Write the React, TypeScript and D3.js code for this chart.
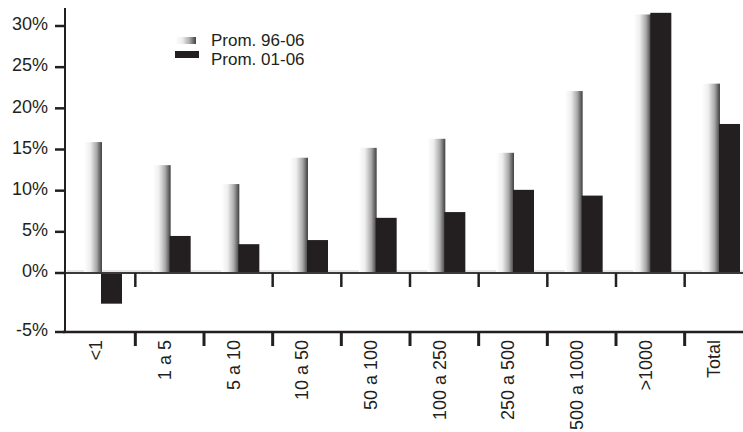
import React from 'react';
import * as d3 from 'd3';

const categories = ['<1', '1 a 5', '5 a 10', '10 a 50', '50 a 100', '100 a 250', '250 a 500', '500 a 1000', '>1000', 'Total'];
const prom9606 = [15.9, 13.1, 10.8, 14.0, 15.2, 16.3, 14.6, 22.1, 31.4, 23.0];
const prom0106 = [-2.6, 4.5, 3.5, 4.0, 6.7, 7.4, 10.1, 9.4, 31.6, 18.1];
const yTicks = [-5, 0, 5, 10, 15, 20, 25, 30];
const seriesNames = ['Prom. 96-06', 'Prom. 01-06'];

const width = 743;
const height = 432;
const ink = '#231f20';
const font = '"Liberation Sans", Arial, sans-serif';

const App: React.FC = () => {
    const x = d3.scalePoint<string>()
        .domain(categories)
        .range([103, 721]);

    // the axis below zero is drawn wider than above it
    const y = d3.scaleLinear()
        .domain([-5, 0, 30])
        .range([332, 273, 26]);

    const centers = categories.map(c => x(c)!);
    const dividers = centers.slice(1).map((c, i) => (c + centers[i]) / 2 - 2);

    return (
        <svg width={width} height={height} style={{ position: 'absolute', left: 0, top: 0, background: '#fff' }}>
            <defs>
                <linearGradient id="grayBar" x1="0" x2="1" y1="0" y2="0">
                    <stop offset="0%" stopColor="#ffffff" />
                    <stop offset="35%" stopColor="#eeeeee" />
                    <stop offset="70%" stopColor="#a9a9a9" />
                    <stop offset="92%" stopColor="#5a5a5a" />
                    <stop offset="100%" stopColor="#444" />
                </linearGradient>
            </defs>

            {/* floor line under the bars */}
            <line x1={67} x2={743} y1={y(0) - 2} y2={y(0) - 2} stroke="#cfcfcf" strokeWidth={1} />

            {categories.map((c, i) => (
                <g key={c}>
                    <rect x={x(c)! - 19} width={18}
                        y={y(prom9606[i])} height={y(0) - y(prom9606[i])}
                        fill="url(#grayBar)" />
                    <rect x={x(c)! - 2} width={21}
                        y={Math.min(y(prom0106[i]), y(0))}
                        height={Math.abs(y(0) - y(prom0106[i]))}
                        fill={ink} />
                </g>
            ))}

            {/* zero line */}
            <line x1={65} x2={743} y1={y(0)} y2={y(0)} stroke="#3a3a3a" strokeWidth={2} />
            {dividers.map((d, i) => i === 1 ? null : (
                <line key={'z' + i} x1={d} x2={d} y1={y(0)} y2={y(0) + 14} stroke={ink} strokeWidth={2.5} />
            ))}

            {/* y axis */}
            <line x1={65} x2={65} y1={8} y2={333} stroke={ink} strokeWidth={2} />
            {yTicks.map(t => (
                <g key={t}>
                    <line x1={55} x2={65} y1={y(t)} y2={y(t)} stroke={ink} strokeWidth={2.5} />
                    <text x={48} y={y(t) - 2} dy="0.35em" textAnchor="end"
                        fontFamily={font} fontSize={18} fill={ink}>{t}%</text>
                </g>
            ))}

            {/* bottom axis */}
            <line x1={63} x2={743} y1={y(-5)} y2={y(-5)} stroke={ink} strokeWidth={2.5} />
            {dividers.map((d, i) => (
                <line key={'b' + i} x1={d} x2={d} y1={y(-5)} y2={y(-5) + 14} stroke={ink} strokeWidth={3} />
            ))}
            {categories.map(c => (
                <text key={'l' + c} transform={`translate(${x(c)! - 7},340) rotate(-90)`}
                    dy="0.35em" textAnchor="end" fontFamily={font} fontSize={18} fill={ink}>{c}</text>
            ))}

            {/* legend */}
            <rect x={175} y={37} width={21} height={7} fill="url(#grayBar)" />
            <rect x={175} y={51} width={24} height={7} fill={ink} />
            <text x={211} y={46} fontFamily={font} fontSize={17} fill={ink}>{seriesNames[0]}</text>
            <text x={211} y={65} fontFamily={font} fontSize={17} fill={ink}>{seriesNames[1]}</text>
        </svg>
    );
};

export default App;
